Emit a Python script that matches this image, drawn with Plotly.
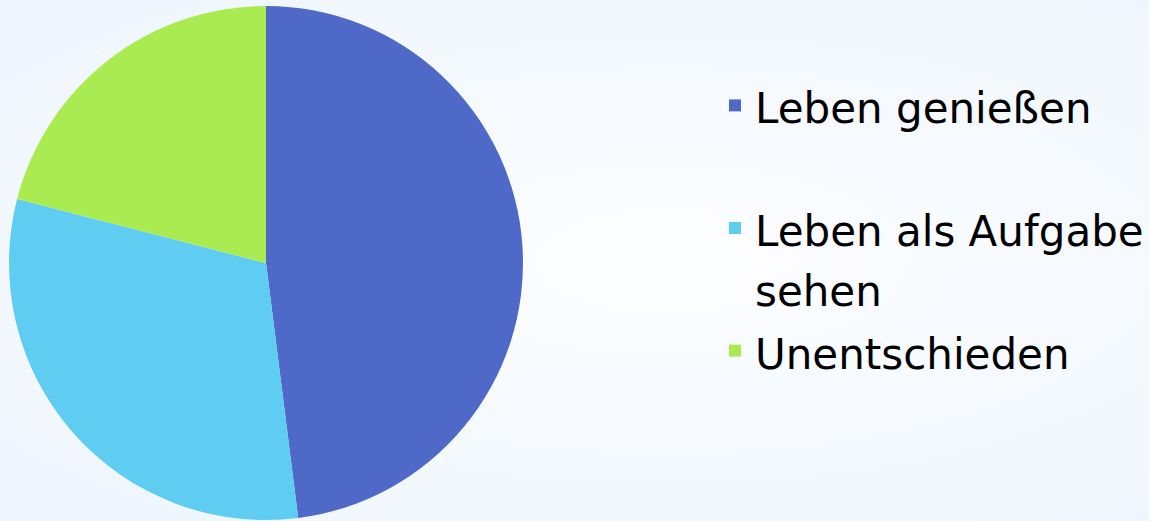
import plotly.graph_objects as go

categories = ["Leben genießen", "Leben als Aufgabe sehen", "Unentschieden"]
values = [48, 31, 21]
colors = ["#4F69C9", "#5FCDF2", "#ABEB52"]

W, H = 1149, 521

# legend labels built from the categories (line breaks as in the original legend)
wrapped = [categories[0] + "<br>&nbsp;",
           "Leben als Aufgabe<br>sehen",
           categories[2]]
legend_labels = ['<span style="font-size:42px">' + t + "</span>" for t in wrapped]

fig = go.Figure(go.Pie(
    labels=legend_labels,
    values=values,
    sort=False,
    direction="clockwise",
    rotation=0,
    textinfo="none",
    hoverinfo="percent",
    marker=dict(colors=colors, line=dict(width=0)),
    domain=dict(x=[9 / W, 523 / W], y=[0, 1]),
))

fig.update_layout(
    width=W, height=H,
    margin=dict(l=0, r=0, t=6, b=1),
    paper_bgcolor="rgba(0,0,0,0)",
    plot_bgcolor="rgba(0,0,0,0)",
    showlegend=True,
    legend=dict(
        x=715 / W, y=1 - 63 / 514, xanchor="left", yanchor="top",
        font=dict(family="DejaVu Sans", size=46, color="#000000"),
        valign="top",
        bgcolor="rgba(0,0,0,0)",
        tracegroupgap=0,
    ),
)

fig.write_html(
    "out.html",
    config={"displayModeBar": False},
    post_script=(
        "document.body.style.margin='0';"
        "document.body.style.background="
        "'radial-gradient(ellipse at 58% 50%, #FCFDFF 0%, #F6FAFE 45%, #EEF5FD 100%)';"
    ),
)
